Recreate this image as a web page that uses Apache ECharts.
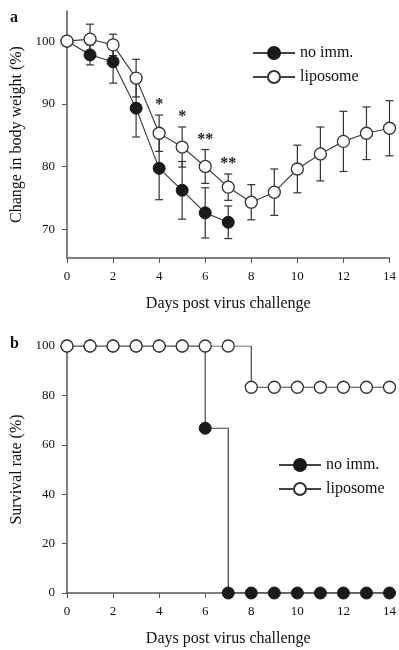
<!DOCTYPE html>
<html>
<head>
<meta charset="utf-8">
<script src="https://cdn.jsdelivr.net/npm/echarts@6/dist/echarts.min.js"></script>
<style>
html,body{margin:0;padding:0;background:#fff;}
#chart{width:399px;height:650px;}
</style>
</head>
<body>
<div id="chart"></div>
<script>
// data
var days = [0,1,2,3,4,5,6,7,8,9,10,11,12,13,14];
// panel a: body weight
var noImmDays = [0,1,2,3,4,5,6,7];
var noImmMean = [100,97.8,96.7,89.3,79.7,76.2,72.6,71.1];
var noImmErr  = [0,1.6,3.4,4.6,5.0,4.6,4.0,2.6];
var lipoMean  = [100,100.3,99.4,94.1,85.3,83.1,80.0,76.7,74.3,75.9,79.6,82.0,84.0,85.3,86.1];
var lipoErr   = [0,2.4,1.7,3.0,2.9,3.2,2.7,2.1,2.8,3.7,3.8,4.3,4.8,4.2,4.4];
var stars     = ['','','','','*','*','**','**','','','','','','',''];
var weightTicks = [70,80,90,100];
// panel b: survival
var noImmSurv = [100,100,100,100,100,100,66.7,0,0,0,0,0,0,0,0];
var lipoSurv  = [100,100,100,100,100,100,100,100,83.3,83.3,83.3,83.3,83.3,83.3,83.3];

var FONT = '"Liberation Serif","DejaVu Serif",serif';
var AX = '#555';

function pairs(xs, ys){ return xs.map(function(x,i){ return [x, ys[i]]; }); }

var myChart = echarts.init(document.getElementById('chart'));

//误差线
function errBars(xs, m, e){
	return xs.map(function(x,i){ return [x, m[i]-e[i], m[i]+e[i]]; });
}
function renderErr(params, api){
	var x = api.value(0);
	var lo = api.coord([x, api.value(1)]);
	var hi = api.coord([x, api.value(2)]);
	if (api.value(2) - api.value(1) <= 0) return;
	var w = 4;
	var st = {stroke:'#333', lineWidth:1.2};
	return {type:'group', children:[
		{type:'line', shape:{x1:lo[0],y1:lo[1],x2:hi[0],y2:hi[1]}, style:st},
		{type:'line', shape:{x1:lo[0]-w,y1:lo[1],x2:lo[0]+w,y2:lo[1]}, style:st},
		{type:'line', shape:{x1:hi[0]-w,y1:hi[1],x2:hi[0]+w,y2:hi[1]}, style:st}
	]};
}

var xAxisBase = function(grid){
	return {
		type:'value', gridIndex:grid, min:0, max:14, interval:2,
		name:'Days post virus challenge', nameLocation:'middle', nameGap:38,
		nameTextStyle:{fontFamily:FONT, fontSize:16, color:'#111'},
		axisLine:{lineStyle:{color:AX, width:1.5}},
		axisTick:{length:5, lineStyle:{color:AX}},
		axisLabel:{fontFamily:FONT, fontSize:13, color:'#111', margin:12},
		splitLine:{show:false}
	};
};

var openSym = {color:'#fff', borderColor:'#333', borderWidth:1.3};
var fillSym = {color:'#1a1a1a', borderColor:'#1a1a1a', borderWidth:1};

myChart.setOption({
	animation:false,
	backgroundColor:'#fff',
	grid:[
		{left:67, right:8, top:11, height:247},
		{left:67, right:8, top:346, height:247}
	],
	xAxis:[xAxisBase(0), xAxisBase(1)],
	yAxis:[
		{
			type:'value', gridIndex:0, min:65.4, max:104.8,
			name:'Change in body weight (%)', nameLocation:'middle', nameGap:41,
			nameTextStyle:{fontFamily:FONT, fontSize:16, color:'#111'},
			axisLine:{show:true, lineStyle:{color:AX, width:1.5}},
			axisTick:{show:true, length:5, customValues:weightTicks, lineStyle:{color:AX}},
			axisLabel:{fontFamily:FONT, fontSize:13, color:'#111', margin:12, customValues:weightTicks},
			splitLine:{show:false}
		},
		{
			type:'value', gridIndex:1, min:0, max:100, interval:20,
			name:'Survival rate (%)', nameLocation:'middle', nameGap:41,
			nameTextStyle:{fontFamily:FONT, fontSize:16, color:'#111'},
			axisLine:{show:true, lineStyle:{color:AX, width:1.5}},
			axisTick:{show:true, length:5, lineStyle:{color:AX}},
			axisLabel:{fontFamily:FONT, fontSize:13, color:'#111', margin:12},
			splitLine:{show:false}
		}
	],
	legend:[
		{
			orient:'vertical', left:247, top:40, itemWidth:42, itemHeight:15, itemGap:8,
			data:['no imm.','liposome'],
			textStyle:{fontFamily:FONT, fontSize:16, color:'#111'}
		},
		{
			orient:'vertical', left:273, top:452, itemWidth:42, itemHeight:15, itemGap:8,
			data:['no imm.','liposome'],
			textStyle:{fontFamily:FONT, fontSize:16, color:'#111'}
		}
	],
	graphic:[
		{type:'text', left:10, top:10, style:{text:'a', font:'bold 16px ' + FONT, fill:'#111'}},
		{type:'text', left:10, top:336, style:{text:'b', font:'bold 16px ' + FONT, fill:'#111'}}
	],
	series:[
		{
			type:'custom', xAxisIndex:0, yAxisIndex:0, z:1,
			renderItem:renderErr, data:errBars(noImmDays, noImmMean, noImmErr), silent:true
		},
		{
			type:'custom', xAxisIndex:0, yAxisIndex:0, z:1,
			renderItem:renderErr, data:errBars(days, lipoMean, lipoErr), silent:true
		},
		{
			name:'no imm.', type:'line', xAxisIndex:0, yAxisIndex:0, z:3,
			data:pairs(noImmDays, noImmMean), symbol:'circle', symbolSize:12,
			lineStyle:{color:'#444', width:1.2}, itemStyle:fillSym
		},
		{
			name:'liposome', type:'line', xAxisIndex:0, yAxisIndex:0, z:4,
			data:pairs(days, lipoMean), symbol:'circle', symbolSize:12,
			lineStyle:{color:'#444', width:1.2}, itemStyle:openSym
		},
		{
			//显著性星号
			type:'custom', xAxisIndex:0, yAxisIndex:0, z:5, silent:true,
			data:days.map(function(d,i){ return [d, lipoMean[i]+lipoErr[i], i]; }),
			renderItem:function(params, api){
				var s = stars[api.value(2)];
				if (!s) return;
				var p = api.coord([api.value(0), api.value(1)]);
				return {type:'text', x:p[0], y:p[1]-2, style:{text:s, font:'bold 16px ' + FONT, fill:'#222', align:'center', verticalAlign:'bottom'}};
			}
		},
		{
			name:'no imm.', type:'line', xAxisIndex:1, yAxisIndex:1, z:3, step:'end',
			data:pairs(days, noImmSurv), symbol:'circle', symbolSize:12,
			lineStyle:{color:'#444', width:1.2}, itemStyle:fillSym
		},
		{
			name:'liposome', type:'line', xAxisIndex:1, yAxisIndex:1, z:4, step:'end',
			data:pairs(days, lipoSurv), symbol:'circle', symbolSize:12,
			lineStyle:{color:'#444', width:1.2}, itemStyle:openSym
		}
	]
});
</script>
</body>
</html>
